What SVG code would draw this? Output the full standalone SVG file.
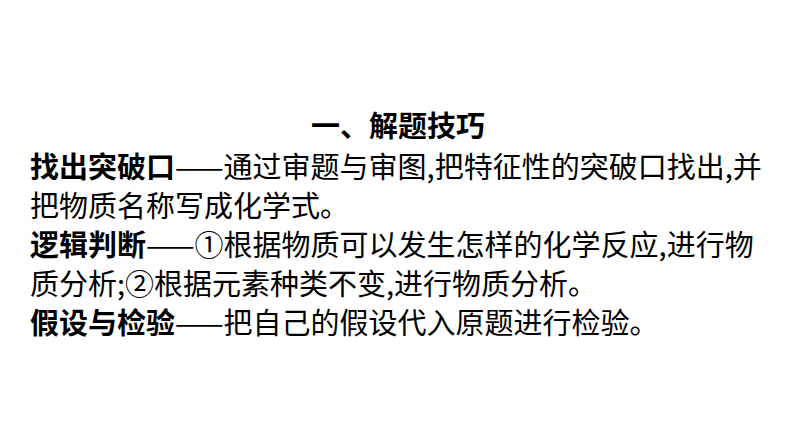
<svg xmlns="http://www.w3.org/2000/svg" width="794" height="446" viewBox="0 0 794 446">
<style>
text{font-family:"Noto Sans CJK SC","Noto Sans",sans-serif;font-size:29px;fill:#000}
.b{font-weight:bold}
</style>
<rect width="794" height="446" fill="#fff"/>
<g id="title"><text class="b" x="398" y="137" text-anchor="middle">一、解题技巧</text></g>
<g id="p1">
<text x="30" y="178"><tspan class="b">找出突破口</tspan>——通过审题与审图,把特征性的突破口找出,并</text>
<text x="30" y="217">把物质名称写成化学式。</text>
</g>
<g id="p2">
<text x="30" y="256"><tspan class="b">逻辑判断</tspan>——①根据物质可以发生怎样的化学反应,进行物</text>
<text x="30" y="295">质分析;②根据元素种类不变,进行物质分析。</text>
</g>
<g id="p3">
<text x="30" y="334"><tspan class="b">假设与检验</tspan>——把自己的假设代入原题进行检验。</text>
</g>
</svg>
